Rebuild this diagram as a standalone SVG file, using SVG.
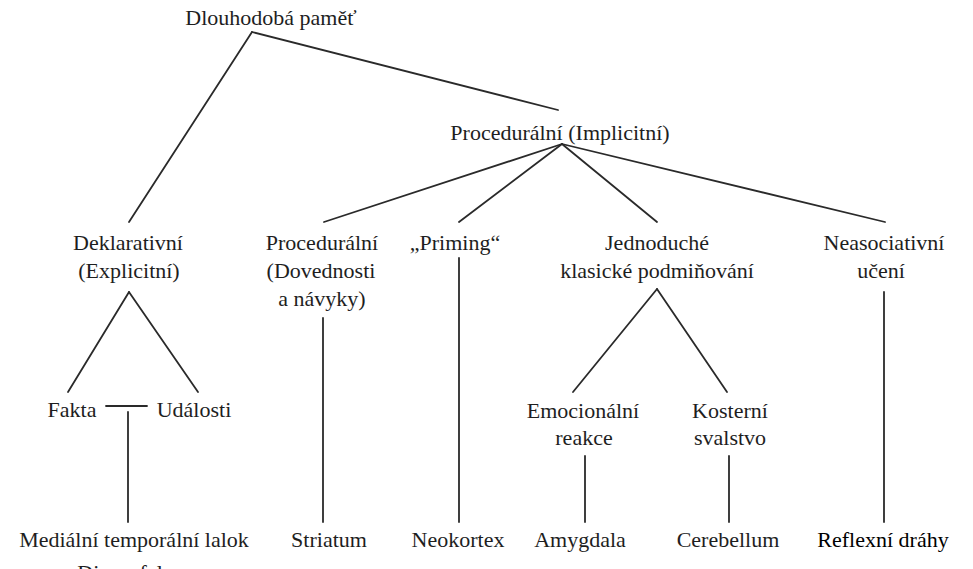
<svg xmlns="http://www.w3.org/2000/svg" width="973" height="569" viewBox="0 0 973 569">
<style>
text{font-family:'Liberation Serif','DejaVu Serif',serif;font-size:22px;fill:#1e1e1e;text-anchor:middle}
.c line{stroke:#2a2a2a;stroke-width:1.8;stroke-linecap:round}
</style>
<rect width="973" height="569" fill="#ffffff"/>
<g class="c" id="connectors">
<line x1="252" y1="32" x2="129" y2="222"/>
<line x1="252" y1="32" x2="558" y2="110"/>
<line x1="562" y1="144" x2="324" y2="222"/>
<line x1="562" y1="144" x2="459" y2="222"/>
<line x1="562" y1="144" x2="657" y2="222"/>
<line x1="562" y1="144" x2="885" y2="222"/>
<line x1="129" y1="292" x2="68" y2="392"/>
<line x1="129" y1="292" x2="198" y2="392"/>
<line x1="106" y1="406" x2="147" y2="406"/>
<line x1="128" y1="412" x2="128" y2="522"/>
<line x1="323" y1="318" x2="323" y2="522"/>
<line x1="459" y1="258" x2="459" y2="522"/>
<line x1="657" y1="289" x2="573" y2="392"/>
<line x1="657" y1="289" x2="727" y2="392"/>
<line x1="585" y1="456" x2="585" y2="522"/>
<line x1="729" y1="456" x2="729" y2="522"/>
<line x1="884" y1="292" x2="884" y2="522"/>
</g>
<g font-family="Liberation Serif, serif">
<g id="root"><text x="271" y="25">Dlouhodobá paměť</text></g>
<g id="implicit"><text x="560" y="140">Procedurální (Implicitní)</text></g>
<g id="declarative"><text x="128" y="250">Deklarativní</text><text x="129" y="278">(Explicitní)</text></g>
<g id="procedural"><text x="322" y="250">Procedurální</text><text x="321" y="278">(Dovednosti</text><text x="322" y="306">a návyky)</text></g>
<g id="priming"><text x="455" y="250">„Priming“</text></g>
<g id="classical"><text x="657" y="250">Jednoduché</text><text x="657" y="278">klasické podmiňování</text></g>
<g id="nonassociative"><text x="884" y="250">Neasociativní</text><text x="881" y="278">učení</text></g>
<g id="facts"><text x="72" y="417">Fakta</text></g>
<g id="events"><text x="194" y="417">Události</text></g>
<g id="emotional"><text x="583" y="418">Emocionální</text><text x="584" y="445">reakce</text></g>
<g id="skeletal"><text x="730" y="418">Kosterní</text><text x="730" y="445">svalstvo</text></g>
<g id="mtl"><text x="134" y="547">Mediální temporální lalok</text><text x="131" y="580">Diencefalon</text></g>
<g id="striatum"><text x="329" y="547">Striatum</text></g>
<g id="neocortex"><text x="458" y="547">Neokortex</text></g>
<g id="amygdala"><text x="580" y="547">Amygdala</text></g>
<g id="cerebellum"><text x="728" y="547">Cerebellum</text></g>
<g id="reflex"><text x="883" y="547" style="fill:#000">Reflexní dráhy</text></g>
</g>
</svg>
